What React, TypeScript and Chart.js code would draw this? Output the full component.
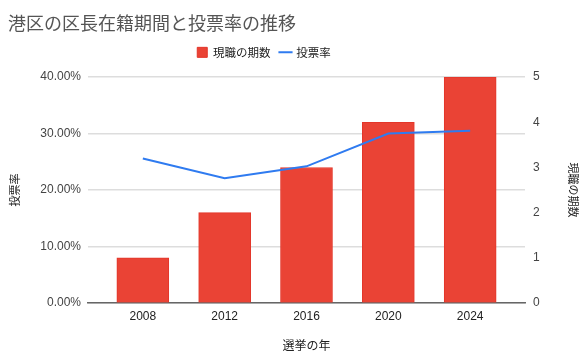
import { useEffect, useRef } from 'react';
import { Chart, registerables } from 'chart.js';

Chart.register(...registerables);

const years = ['2008', '2012', '2016', '2020', '2024'];
const terms = [1, 2, 3, 4, 5];
const turnout = [25.6, 22.1, 24.2, 30.0, 30.5];
const leftTicks = [0, 10, 20, 30, 40];
const rightTicks = [0, 1, 2, 3, 4, 5];

const LATIN = "'Liberation Sans', Arial, 'Noto Sans CJK JP', sans-serif";
const CJK = "'Noto Sans CJK JP', 'Liberation Sans', sans-serif";

export default function App() {
  const ref = useRef<HTMLCanvasElement>(null);

  useEffect(() => {
    document.body.style.margin = '0';
    if (!ref.current) return;

    const legendTweak = {
      id: 'legendTweak',
      beforeLayout(chart: any) {
        const lg = chart.legend;
        if (lg && !lg._patched) {
          const f = lg.fit.bind(lg);
          lg.fit = function () {
            f();
            this.height += 9;
          };
          lg._patched = true;
        }
      },
      afterLayout(chart: any) {
        const lg = chart.legend;
        if (lg) {
          lg.left -= 29;
          lg.right -= 29;
        }
        const tb = chart.titleBlock;
        if (tb) {
          tb.left += 8;
          tb.right += 8;
        }
      },
    };

    const chart = new Chart(ref.current, {
      type: 'bar',
      data: {
        datasets: [
          {
            type: 'bar',
            label: '現職の期数',
            data: terms.map((v, i) => ({ x: i, y: v })),
            xAxisID: 'x',
            yAxisID: 'y1',
            backgroundColor: '#ea4335',
            borderColor: '#e3362a',
            borderWidth: 1,
            barThickness: 52,
            pointStyle: 'rect',
            order: 2,
          } as any,
          {
            type: 'line',
            label: '投票率',
            data: turnout.map((v, i) => ({ x: i, y: v })),
            xAxisID: 'x',
            yAxisID: 'y',
            borderColor: '#2f7bf0',
            backgroundColor: '#2f7bf0',
            borderWidth: 2,
            pointRadius: 0,
            tension: 0,
            pointStyle: 'line',
            order: 1,
          } as any,
        ],
      },
      options: {
        animation: false,
        responsive: false,
        maintainAspectRatio: false,
        layout: { padding: 0 },
        plugins: {
          title: {
            display: true,
            text: '港区の区長在籍期間と投票率の推移',
            align: 'start',
            color: '#555',
            font: { family: CJK, size: 18, weight: 'normal' },
            padding: { top: 12, bottom: 3 },
          },
          legend: {
            display: true,
            position: 'top',
            labels: {
              usePointStyle: true,
              boxHeight: 10,
              boxWidth: 10,
              padding: 10,
              color: '#222',
              font: { family: CJK, size: 11.5 },
              sort: (a: any, b: any) => a.datasetIndex - b.datasetIndex,
            },
          },
          tooltip: { enabled: false },
        },
        scales: {
          x: {
            type: 'linear',
            offset: false,
            min: -0.67,
            max: 4.67,
            afterBuildTicks: (s: any) => {
              s.ticks = years.map((_, i) => ({ value: i }));
            },
            afterFit: (s: any) => {
              s.height = 54;
            },
            ticks: {
              callback: (v: any) => years[v],
              color: '#222',
              padding: 6,
              autoSkip: false,
              maxRotation: 0,
              font: { family: LATIN, size: 12 },
            },
            grid: { display: false, drawTicks: false, offset: false },
            border: { display: true, color: '#666', width: 1.5 },
            title: {
              display: true,
              text: '選挙の年',
              color: '#222',
              font: { family: CJK, size: 12 },
              padding: { top: 0, bottom: 4 },
            },
          } as any,
          y: {
            type: 'linear',
            position: 'left',
            min: 0,
            max: 40,
            afterBuildTicks: (s: any) => {
              s.ticks = leftTicks.map((v) => ({ value: v }));
            },
            afterFit: (s: any) => {
              s.width = 88;
            },
            ticks: {
              callback: (v: any) => Number(v).toFixed(2) + '%',
              color: '#444',
              padding: 7,
              font: { family: LATIN, size: 12 },
            },
            grid: { color: '#dddddd', drawTicks: false, lineWidth: 1.5 },
            border: { display: false },
            title: {
              display: true,
              text: '投票率',
              color: '#222',
              font: { family: CJK, size: 11 },
              padding: { top: 8, bottom: 0 },
            },
          } as any,
          y1: {
            type: 'linear',
            position: 'right',
            min: 0,
            max: 5,
            afterBuildTicks: (s: any) => {
              s.ticks = rightTicks.map((v) => ({ value: v }));
            },
            afterFit: (s: any) => {
              s.width = 61;
            },
            ticks: {
              color: '#444',
              padding: 8,
              font: { family: LATIN, size: 12 },
            },
            grid: { drawOnChartArea: false, drawTicks: false },
            border: { display: false },
            title: {
              display: true,
              text: '現職の期数',
              color: '#222',
              font: { family: CJK, size: 11 },
              padding: { top: 6, bottom: 0 },
            },
          } as any,
        },
      },
      plugins: [legendTweak],
    });

    return () => chart.destroy();
  }, []);

  return (
    <div style={{ width: 586, height: 357, position: 'relative' }}>
      <canvas ref={ref} width={586} height={357} style={{ width: 586, height: 357, display: 'block' }} />
    </div>
  );
}
